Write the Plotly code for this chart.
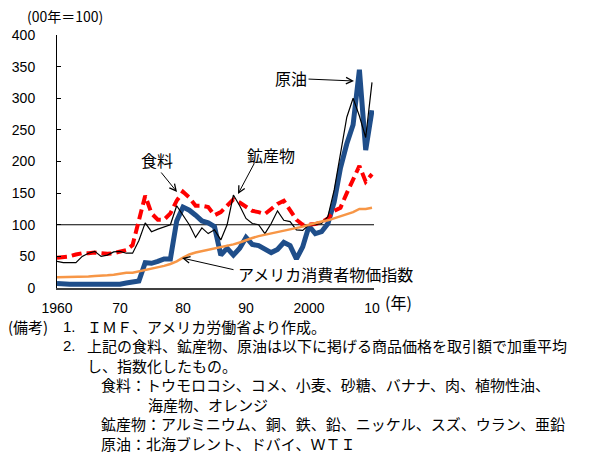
import plotly.graph_objects as go

years = list(range(1960, 2011))

food = [48, 49, 50, 53, 55, 55, 56, 55, 54, 55, 58, 60, 68, 110, 146, 118, 108, 108, 118, 138,
        152, 143, 130, 130, 128, 115, 120, 130, 140, 135, 128, 122, 120, 117, 125, 133, 138, 124, 108, 100,
        100, 101, 104, 110, 122, 127, 150, 172, 193, 168, 180]

minerals = [42, 40, 40, 40, 50, 55, 58, 50, 52, 57, 58, 55, 55, 75, 103, 89, 93, 97, 100, 130,
            115, 100, 80, 95, 86, 92, 76, 100, 147, 130, 110, 102, 100, 86, 102, 122, 107, 105, 92, 91,
            100, 100, 102, 113, 155, 215, 270, 300, 272, 238, 325]

oil = [7, 6, 6, 6, 6, 6, 6, 6, 6, 6, 6, 8, 9, 11, 40, 39, 42, 46, 46, 106,
       128, 123, 115, 106, 103, 97, 52, 63, 52, 63, 80, 69, 67, 61, 56, 61, 72, 67, 46, 65,
       98, 86, 89, 102, 136, 190, 228, 258, 345, 218, 281]

cpi = [17, 17, 18, 18, 18, 18, 19, 19, 20, 21, 23, 24, 24, 26, 29, 31, 33, 35, 38, 42,
       48, 53, 56, 58, 60, 63, 64, 66, 69, 72, 76, 79, 82, 84, 86, 89, 91, 93, 95, 97,
       100, 103, 105, 107, 110, 113, 117, 120, 125, 125, 127]

tick_vals = [1960, 1970, 1980, 1990, 2000, 2010]
tick_text = ["1960", "70", "80", "90", "2000", "10"]
y_ticks = [0, 50, 100, 150, 200, 250, 300, 350, 400]

# layout geometry (pixels)
W, H = 600, 454
L, R, T, B = 57, 374, 35, 288
X0 = 1960
PXYR = 6.3
XMAX = X0 + (R - L) / PXYR


def to_data(px, py):
    return X0 + (px - L) / PXYR, (B - py) * 400.0 / (B - T)


def to_paper(px, py):
    return (px - L) / (R - L), (B - py) / (B - T)


jp = "Noto Sans CJK JP"
num = "Liberation Sans"

fig = go.Figure()
fig.add_trace(go.Scatter(x=years, y=oil, mode="lines", name="原油",
                         line=dict(color="#1F4E8A", width=5)))
fig.add_trace(go.Scatter(x=years, y=food, mode="lines", name="食料",
                         line=dict(color="#FF0000", width=4, dash="10px,5px")))
fig.add_trace(go.Scatter(x=years, y=minerals, mode="lines", name="鉱産物",
                         line=dict(color="#000000", width=1.2)))
fig.add_trace(go.Scatter(x=years, y=cpi, mode="lines", name="アメリカ消費者物価指数",
                         line=dict(color="#F79646", width=2.5)))

fig.add_shape(type="line", xref="paper", yref="y", x0=0, x1=1, y0=100, y1=100,
              line=dict(color="#000000", width=1), layer="below")

annotations = []


def label(px, py, text, size=16, font=jp, xanchor="left", yanchor="middle"):
    xp, yp = to_paper(px, py)
    annotations.append(dict(xref="paper", yref="paper", x=xp, y=yp, text=text,
                            showarrow=False, xanchor=xanchor, yanchor=yanchor,
                            align="left", borderpad=0,
                            font=dict(family=font, size=size, color="#000000")))


def arrow(tx, ty, hx, hy):
    x, y = to_data(hx, hy)
    ax, ay = to_data(tx, ty)
    annotations.append(dict(x=x, y=y, ax=ax, ay=ay, xref="x", yref="y",
                            axref="x", ayref="y", text="", showarrow=True,
                            arrowhead=5, arrowsize=1.3, arrowwidth=1,
                            arrowcolor="#000000", standoff=0, startstandoff=0))


# series labels
label(274, 78, "原油")
arrow(307, 79, 354, 81)
label(140, 160, "食料")
arrow(160, 171, 177, 192)
label(246, 155, "鉱産物")
arrow(255, 162, 238, 194)
label(237, 274, "アメリカ消費者物価指数")
arrow(235, 270, 182, 258)

# unit labels
label(26, 16, "(00年＝100)", size=14)
label(384, 302, "(年)", size=16)

# notes
NS = 15
ny = [326, 345.5, 365, 384.5, 404, 423.5, 443]
label(7, ny[0], "(備考)", size=NS)
label(62, ny[0], "1.", size=NS, font=num)
label(86, ny[0], "ＩＭＦ、アメリカ労働省より作成。", size=NS)
label(62, ny[1], "2.", size=NS, font=num)
label(86, ny[1], "上記の食料、鉱産物、原油は以下に掲げる商品価格を取引額で加重平均", size=NS)
label(86, ny[2], "し、指数化したもの。", size=NS)
label(100, ny[3], "食料：トウモロコシ、コメ、小麦、砂糖、バナナ、肉、植物性油、", size=NS)
label(147, ny[4], "海産物、オレンジ", size=NS)
label(100, ny[5], "鉱産物：アルミニウム、銅、鉄、鉛、ニッケル、スズ、ウラン、亜鉛", size=NS)
label(100, ny[6], "原油：北海ブレント、ドバイ、ＷＴＩ", size=NS)

fig.update_layout(
    width=W, height=H,
    margin=dict(l=L, r=W - R, t=T, b=H - B, pad=0),
    paper_bgcolor="white", plot_bgcolor="white",
    showlegend=False,
    annotations=annotations,
    xaxis=dict(range=[X0, XMAX], tickvals=tick_vals, ticktext=tick_text,
               showgrid=False, zeroline=False, showline=True,
               linecolor="#404040", linewidth=1.5, ticks="",
               ticklabelstandoff=6,
               tickfont=dict(family=num, size=14, color="#000000")),
    yaxis=dict(range=[0, 400], tickvals=y_ticks, showgrid=False, zeroline=False,
               showline=True, linecolor="#000000", linewidth=1,
               ticks="inside", ticklen=4, tickcolor="#000000",
               ticklabelstandoff=18,
               tickfont=dict(family=num, size=14, color="#000000")),
)

fig.write_html("out.html")
